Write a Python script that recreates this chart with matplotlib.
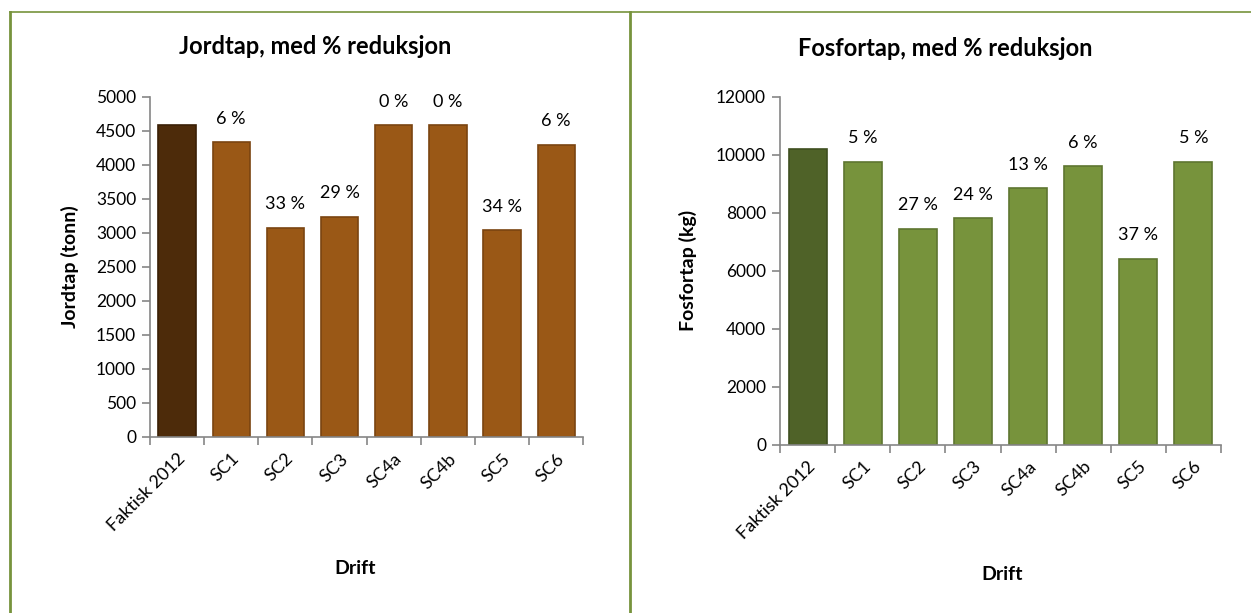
"""Jordtap og fosfortap per driftsscenario, med % reduksjon."""

import matplotlib

matplotlib.use("Agg")
import matplotlib.pyplot as plt
import numpy as np
from matplotlib.lines import Line2D

plt.rcParams["font.family"] = ["Lato", "DejaVu Sans"]

categories = ["Faktisk 2012", "SC1", "SC2", "SC3", "SC4a", "SC4b", "SC5", "SC6"]

jordtap = [4580, 4330, 3075, 3235, 4580, 4580, 3035, 4290]
jordtap_pct = ["", "6 %", "33 %", "29 %", "0 %", "0 %", "34 %", "6 %"]

fosfortap = [10210, 9750, 7440, 7800, 8840, 9600, 6400, 9750]
fosfortap_pct = ["", "5 %", "27 %", "24 %", "13 %", "6 %", "37 %", "5 %"]

BORDER = "#77933C"
AXIS = "#868686"


def draw_panel(ax, values, labels, first_color, color, first_edge, edge, ymax, ystep):
    x = np.arange(len(values))
    colors = [first_color] + [color] * (len(values) - 1)
    edges = [first_edge] + [edge] * (len(values) - 1)
    bars = ax.bar(x, values, width=0.69, color=colors, edgecolor=edges, linewidth=1.2, zorder=2)
    for b, lab in zip(bars, labels):
        if lab:
            ax.annotate(lab, (b.get_x() + b.get_width() / 2, b.get_height()),
                        xytext=(0, 17), textcoords="offset points",
                        ha="center", va="center", fontsize=13)

    ax.set_xlim(-0.5, len(values) - 0.5)
    ax.set_ylim(0, ymax)
    ax.set_yticks(np.arange(0, ymax + 1, ystep))

    ax.set_xticks(np.arange(-0.5, len(values)), minor=False)
    ax.set_xticklabels([])
    ax.set_xticks(x, minor=True)
    ax.set_xticklabels(categories, minor=True, rotation=45, ha="right",
                       va="top", rotation_mode="anchor", fontsize=13)
    ax.tick_params(axis="x", which="major", length=6, color=AXIS, width=1.2)
    ax.tick_params(axis="x", which="minor", length=0, pad=10)
    ax.tick_params(axis="y", length=6, color=AXIS, width=1.2, labelsize=12.5, pad=4)

    for s in ["top", "right"]:
        ax.spines[s].set_visible(False)
    for s in ["left", "bottom"]:
        ax.spines[s].set_color(AXIS)
        ax.spines[s].set_linewidth(1.2)


fig = plt.figure(figsize=(12.51, 6.13), dpi=100)
W, H = 1251, 613

ax1 = fig.add_axes([150 / W, 1 - 436.7 / H, 433.3 / W, 340 / H])
draw_panel(ax1, jordtap, jordtap_pct, "#4D2B0A", "#9A5816", "#3A1F06", "#7A4410", 5000, 500)

ax2 = fig.add_axes([780 / W, 1 - 444.5 / H, 441 / W, 347.8 / H])
draw_panel(ax2, fosfortap, fosfortap_pct, "#4F6228", "#77933C", "#3F4F20", "#5E7530", 12000, 2000)

# titles and axis titles
fig.text(315 / W, 1 - 47 / H, "Jordtap, med % reduksjon", ha="center", va="center",
         fontsize=17, fontweight="bold")
fig.text(945 / W, 1 - 48 / H, "Fosfortap, med % reduksjon", ha="center", va="center",
         fontsize=17, fontweight="bold")
fig.text(70 / W, 1 - 267 / H, "Jordtap (tonn)", rotation=90, ha="center", va="center",
         fontsize=14, fontweight="bold")
fig.text(688 / W, 1 - 270 / H, "Fosfortap (kg)", rotation=90, ha="center", va="center",
         fontsize=14, fontweight="bold")
fig.text(355 / W, 1 - 568 / H, "Drift", ha="center", va="center", fontsize=14, fontweight="bold")
fig.text(1002 / W, 1 - 575 / H, "Drift", ha="center", va="center", fontsize=14, fontweight="bold")

# green frame lines round the panels
fig.add_artist(Line2D([10 / W, 1], [1 - 11.5 / H] * 2, color=BORDER, lw=1.2))
fig.add_artist(Line2D([10 / W] * 2, [0, 1 - 11.5 / H], color=BORDER, lw=2))
fig.add_artist(Line2D([630 / W] * 2, [0, 1 - 11.5 / H], color=BORDER, lw=2))

fig.savefig("out.png", dpi=100)
